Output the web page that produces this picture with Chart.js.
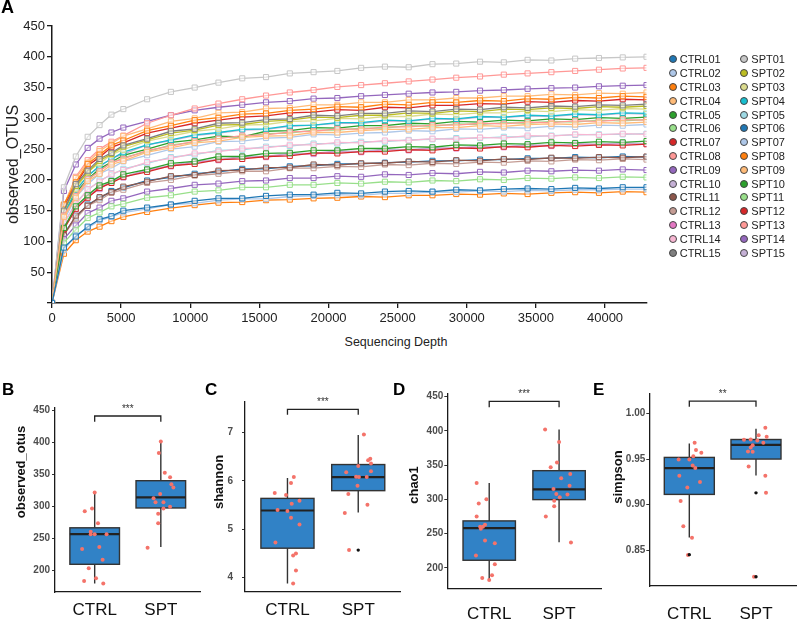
<!DOCTYPE html>
<html>
<head>
<meta charset="utf-8">
<title>Alpha diversity</title>
<script src="https://cdn.jsdelivr.net/npm/chart.js@4.4.0/dist/chart.umd.min.js"></script>
<style>
  html, body { margin: 0; padding: 0; background: #fff; }
  body { width: 800px; height: 619px; position: relative; overflow: hidden;
         font-family: 'Liberation Sans', Arial, Helvetica, sans-serif; color: #1a1a1a; }
  canvas { position: absolute; }
  .tag { position: absolute; font-weight: bold; color: #000; }
  .item { position: absolute; height: 12px; display: flex; align-items: center;
          font-size: 11px; color: #222; white-space: nowrap; }
  .dot { width: 8px; height: 8px; border-radius: 50%; border: 0.7px solid #444;
         box-sizing: border-box; margin-right: 3px; }
  #xTitle { position: absolute; left: 296px; top: 335px; width: 200px; text-align: center;
            font-size: 12.5px; line-height: 15px; color: #222; }
</style>
</head>
<body>
<canvas id="rareChart" width="800" height="335" style="left:0;top:0"></canvas>
<canvas id="panelB" width="205" height="239" style="left:0;top:380px"></canvas>
<canvas id="panelC" width="200" height="239" style="left:205px;top:380px"></canvas>
<canvas id="panelD" width="200" height="239" style="left:405px;top:380px"></canvas>
<canvas id="panelE" width="195" height="239" style="left:605px;top:380px"></canvas>
<div id="xTitle">Sequencing Depth</div>
<div class="tag" style="left:1px;top:-2px;font-size:18px;line-height:18px">A</div>
<div class="tag" style="left:2px;top:381px;font-size:17px;line-height:17px">B</div>
<div class="tag" style="left:205px;top:381px;font-size:17px;line-height:17px">C</div>
<div class="tag" style="left:393px;top:381px;font-size:17px;line-height:17px">D</div>
<div class="tag" style="left:593px;top:381px;font-size:17px;line-height:17px">E</div>
<div id="legend"></div>

<script>
// ---------- Panel A: rarefaction curves ----------
const depths = [0, 860, 1720, 2580, 3440, 4300, 5160, 6880, 8600, 10320, 12040, 13760, 15480, 17200,
  18920, 20640, 22360, 24080, 25800, 27520, 29240, 30960, 32680, 34400, 36120, 37840, 39560, 41280, 43000];
const depthTicks = [0, 5000, 10000, 15000, 20000, 25000, 30000, 35000, 40000];
const otuTicks = [0, 50, 100, 150, 200, 250, 300, 350, 400, 450];

const sampleNames = ['CTRL01', 'CTRL02', 'CTRL03', 'CTRL04', 'CTRL05', 'CTRL06', 'CTRL07', 'CTRL08',
  'CTRL09', 'CTRL10', 'CTRL11', 'CTRL12', 'CTRL13', 'CTRL14', 'CTRL15',
  'SPT01', 'SPT02', 'SPT03', 'SPT04', 'SPT05', 'SPT06', 'SPT07', 'SPT08',
  'SPT09', 'SPT10', 'SPT11', 'SPT12', 'SPT13', 'SPT14', 'SPT15'];

// tab20-like palette, SPT06..15 restart the cycle
const sampleColors = ['#1f77b4', '#aec7e8', '#ff7f0e', '#ffbb78', '#2ca02c', '#98df8a', '#d62728', '#ff9896',
  '#9467bd', '#c5b0d5', '#8c564b', '#c49c94', '#e377c2', '#f7b6d2', '#7f7f7f',
  '#c7c7c7', '#bcbd22', '#dbdb8d', '#17becf', '#9edae5', '#1f77b4', '#aec7e8', '#ff7f0e',
  '#ffbb78', '#2ca02c', '#98df8a', '#d62728', '#ff9896', '#9467bd', '#c5b0d5'];

const ctrl01 = [0, 90, 108, 124, 136, 141, 150, 155, 160, 166, 170, 170, 174, 176, 176, 179, 178, 181, 182, 181, 184, 183, 185, 186, 185, 187, 186, 188, 188];
const ctrl02 = [0, 86, 110, 122, 134, 140, 147, 153, 160, 162, 167, 169, 169, 173, 174, 176, 175, 178, 178, 180, 180, 182, 181, 183, 182, 184, 184, 185, 185];
const ctrl03 = [0, 80, 102, 116, 124, 133, 140, 148, 154, 159, 163, 164, 167, 168, 170, 171, 173, 172, 175, 175, 177, 176, 178, 177, 179, 180, 179, 181, 180];
const ctrl04 = [0, 140, 171, 198, 210, 225, 231, 245, 252, 260, 263, 269, 271, 272, 277, 277, 280, 282, 282, 285, 285, 288, 287, 290, 291, 290, 293, 292, 294];
const ctrl05 = [0, 122, 157, 175, 191, 198, 209, 217, 227, 230, 238, 238, 243, 244, 248, 248, 251, 251, 254, 253, 257, 256, 259, 258, 261, 260, 262, 261, 263];
const ctrl06 = [0, 98, 119, 138, 147, 157, 161, 171, 175, 181, 183, 188, 188, 192, 192, 195, 194, 197, 196, 199, 198, 201, 200, 203, 202, 204, 203, 205, 204];
const ctrl07 = [0, 120, 153, 171, 187, 195, 205, 213, 223, 226, 233, 234, 238, 239, 244, 243, 246, 246, 249, 248, 252, 251, 254, 253, 256, 255, 257, 256, 258];
const ctrl08 = [0, 142, 174, 201, 214, 228, 234, 248, 255, 263, 267, 272, 273, 278, 279, 283, 282, 286, 286, 289, 289, 292, 291, 294, 293, 296, 295, 298, 297];
const ctrl09 = [0, 104, 126, 146, 155, 166, 170, 181, 186, 192, 194, 198, 199, 203, 203, 206, 205, 209, 208, 211, 210, 213, 212, 215, 214, 216, 215, 217, 216];
const ctrl10 = [0, 124, 151, 175, 186, 199, 204, 217, 223, 230, 233, 238, 238, 243, 243, 247, 246, 250, 249, 252, 252, 255, 254, 257, 256, 259, 258, 260, 259];
const ctrl11 = [0, 110, 142, 158, 172, 180, 189, 197, 206, 208, 215, 216, 220, 220, 225, 224, 227, 227, 230, 229, 232, 231, 234, 233, 236, 235, 237, 236, 238];
const ctrl12 = [0, 111, 137, 158, 167, 179, 184, 195, 200, 207, 210, 214, 214, 219, 219, 222, 221, 225, 224, 227, 226, 229, 228, 231, 230, 233, 232, 234, 233];
const ctrl13 = [0, 123, 152, 174, 185, 198, 204, 216, 222, 229, 232, 237, 237, 242, 242, 246, 245, 249, 248, 251, 251, 254, 253, 256, 255, 258, 257, 259, 258];
const ctrl14 = [0, 131, 160, 185, 197, 210, 216, 229, 235, 243, 246, 251, 252, 257, 257, 261, 260, 264, 264, 267, 266, 269, 268, 272, 271, 274, 273, 275, 274];
const ctrl15 = [0, 150, 193, 215, 234, 244, 256, 267, 279, 283, 292, 293, 298, 299, 305, 304, 308, 308, 312, 311, 315, 314, 318, 317, 320, 319, 322, 321, 323];
const spt01 = [0, 188, 238, 270, 289, 306, 315, 331, 343, 350, 358, 365, 367, 373, 375, 377, 382, 384, 383, 388, 389, 392, 391, 395, 394, 397, 398, 399, 400];
const spt02 = [0, 148, 190, 212, 231, 242, 254, 265, 276, 281, 289, 290, 295, 297, 302, 301, 305, 305, 309, 308, 312, 311, 315, 314, 317, 316, 319, 318, 320];
const spt03 = [0, 151, 185, 213, 227, 241, 249, 263, 271, 279, 283, 289, 290, 295, 296, 300, 299, 303, 303, 307, 306, 309, 309, 312, 311, 314, 313, 316, 315];
const spt04 = [0, 143, 184, 206, 223, 234, 245, 257, 265, 273, 277, 282, 283, 288, 289, 293, 293, 297, 296, 300, 299, 303, 302, 305, 304, 307, 306, 309, 308];
const spt05 = [0, 128, 163, 183, 199, 208, 218, 227, 237, 241, 248, 249, 254, 255, 259, 259, 262, 262, 265, 266, 268, 268, 270, 270, 272, 273, 274, 274, 275];
const spt06 = [0, 113, 139, 160, 170, 182, 187, 199, 204, 210, 213, 218, 218, 222, 223, 226, 226, 228, 229, 231, 231, 233, 233, 235, 235, 237, 236, 238, 237];
const spt07 = [0, 134, 172, 193, 210, 219, 230, 240, 250, 254, 262, 263, 268, 269, 274, 273, 276, 277, 280, 279, 283, 282, 285, 284, 287, 286, 289, 288, 290];
const spt08 = [0, 160, 196, 226, 241, 256, 264, 280, 288, 297, 301, 307, 308, 313, 315, 319, 318, 323, 322, 326, 326, 329, 328, 332, 331, 334, 333, 336, 335];
const spt09 = [0, 159, 203, 228, 247, 259, 271, 283, 295, 300, 309, 310, 316, 317, 322, 322, 326, 326, 330, 330, 333, 333, 336, 336, 339, 338, 341, 340, 342];
const spt10 = [0, 140, 179, 201, 218, 229, 240, 250, 261, 265, 271, 270, 279, 280, 285, 284, 288, 288, 292, 291, 295, 294, 297, 296, 299, 298, 301, 300, 302];
const spt11 = [0, 139, 177, 199, 216, 227, 236, 246, 257, 261, 269, 270, 275, 276, 281, 281, 284, 284, 288, 287, 291, 290, 293, 292, 295, 294, 297, 296, 298];
const spt12 = [0, 157, 193, 223, 237, 253, 260, 276, 284, 292, 297, 302, 304, 309, 310, 314, 313, 318, 317, 321, 321, 324, 323, 327, 326, 329, 328, 331, 330];
const spt13 = [0, 158, 205, 232, 250, 262, 272, 292, 305, 316, 324, 331, 337, 342, 346, 351, 354, 357, 360, 363, 366, 368, 371, 373, 375, 377, 379, 381, 382];
const spt14 = [0, 182, 225, 252, 267, 277, 285, 295, 305, 313, 318, 322, 326, 328, 332, 333, 336, 338, 340, 342, 343, 345, 346, 348, 349, 350, 352, 353, 354];
const spt15 = [0, 146, 181, 207, 221, 235, 242, 257, 264, 272, 276, 281, 282, 287, 289, 292, 292, 296, 295, 299, 298, 302, 301, 304, 303, 306, 305, 308, 307];

const otuSeries = [ctrl01, ctrl02, ctrl03, ctrl04, ctrl05, ctrl06, ctrl07, ctrl08, ctrl09, ctrl10,
  ctrl11, ctrl12, ctrl13, ctrl14, ctrl15, spt01, spt02, spt03, spt04, spt05, spt06, spt07, spt08,
  spt09, spt10, spt11, spt12, spt13, spt14, spt15];

// ---------- Panels B-E: alpha diversity boxplots ----------
const groups = ['CTRL', 'SPT'];

// B: observed_otus
const obsCtrl = [322, 293, 297, 274, 261, 257, 257, 257, 234, 237, 217, 204, 184, 188, 180];
const obsCtrlJitter = [0.0, -0.15, -0.04, 0.05, -0.06, -0.06, 0.0, 0.18, -0.19, 0.07, 0.12, -0.09, -0.16, 0.02, 0.13];
const obsSpt = [402, 384, 353, 346, 335, 330, 320, 313, 307, 307, 300, 297, 289, 274, 236];
const obsSptJitter = [0.0, -0.03, 0.06, 0.14, 0.16, 0.19, -0.01, -0.11, -0.08, 0.04, 0.14, 0.04, -0.04, -0.04, -0.2];
const obsBox = [[180, 210, 257, 267, 323], [237, 298, 314.5, 340.6, 402.7]]; // whisker lo, q1, median, q3, whisker hi
const obsOutliers = [];
const obsTicks = [200, 250, 300, 350, 400, 450];

// C: shannon
const shanCtrl = [6.08, 5.96, 5.75, 5.71, 5.53, 5.59, 5.40, 5.38, 5.24, 5.10, 4.73, 4.50, 4.46, 4.15, 3.88];
const shanCtrlJitter = [0.09, 0.05, -0.18, -0.02, 0.06, 0.17, -0.14, 0.0, 0.05, 0.17, -0.17, 0.12, 0.08, 0.12, 0.08];
const shanSpt = [6.96, 6.46, 6.43, 6.36, 6.31, 6.18, 6.20, 6.08, 6.08, 5.90, 5.73, 5.51, 5.34, 4.57, 6.09];
const shanSptJitter = [0.08, 0.17, 0.14, 0.18, 0.0, -0.17, 0.18, 0.01, 0.12, -0.01, -0.14, 0.13, -0.19, -0.13, -0.03];
const shanBox = [[3.88, 4.61, 5.39, 5.64, 6.06], [5.35, 5.80, 6.08, 6.34, 6.95]];
const shanOutliers = [[2, 4.57]];
const shanTicks = [4, 5, 6, 7];

// D: chao1
const chaoCtrl = [324, 294, 300, 275, 263, 260, 260, 257, 240, 236, 218, 205, 185, 189, 182];
const chaoCtrlJitter = [-0.18, -0.15, -0.04, -0.18, -0.06, -0.13, -0.09, -0.12, -0.06, 0.08, -0.19, 0.08, -0.1, 0.04, 0.0];
const chaoSpt = [402, 384, 354, 347, 331, 337, 320, 315, 308, 307, 303, 298, 290, 275, 237];
const chaoSptJitter = [-0.2, 0.0, -0.03, -0.12, 0.03, 0.16, 0.15, -0.08, -0.04, 0.12, 0.01, -0.07, -0.07, -0.19, 0.17];
const chaoBox = [[182, 211, 258, 268.5, 324], [237.4, 299.6, 314.7, 341.9, 402.1]];
const chaoOutliers = [];
const chaoTicks = [200, 250, 300, 350, 400, 450];

// E: simpson
const simpCtrl = [0.9678, 0.9598, 0.9569, 0.9532, 0.9496, 0.9496, 0.943, 0.9401, 0.9317, 0.9248, 0.9189, 0.904, 0.8763, 0.8639, 0.8449];
const simpCtrlJitter = [0.08, 0.1, 0.18, 0.06, -0.16, 0.0, 0.05, 0.09, -0.15, 0.16, -0.03, -0.13, -0.09, 0.04, -0.02];
const simpSpt = [0.9842, 0.9744, 0.9762, 0.9711, 0.9714, 0.9704, 0.9678, 0.9652, 0.9627, 0.9583, 0.958, 0.9419, 0.9317, 0.9131, 0.8212];
const simpSptJitter = [0.14, 0.16, 0.04, -0.18, -0.08, 0.02, 0.11, -0.05, -0.08, -0.12, -0.05, -0.11, 0.14, 0.15, -0.03];
const simpBox = [[0.8642, 0.9113, 0.940, 0.9518, 0.967], [0.932, 0.950, 0.9656, 0.9714, 0.9831]];
const simpOutliers = [[1, 0.8453], [2, 0.913], [2, 0.8212]];
const simpTicks = [0.85, 0.90, 0.95, 1.00];

// Styling
const AXIS_COLOR = '#1a1a1a';
const BOX_FILL = '#3182c6';
const BOX_LINE = '#333333';
const DOT_COLOR = '#f4736a';
const BOX_HALF = 0.375;

Chart.defaults.font.family = "'Liberation Sans', Arial, Helvetica, sans-serif";
Chart.defaults.color = '#222';
Chart.defaults.animation = false;

// ---------- Rarefaction chart ----------
new Chart(document.getElementById('rareChart'), {
  type: 'line',
  data: {
    datasets: sampleNames.map((name, i) => ({
      label: name,
      data: depths.map((d, j) => ({ x: d, y: otuSeries[i][j] })),
      borderColor: sampleColors[i],
      borderWidth: 1.3,
      pointStyle: 'rect',
      pointRadius: 3.6,
      pointBorderWidth: 1,
      pointBorderColor: sampleColors[i],
      pointBackgroundColor: 'rgba(255,255,255,0.5)',
      fill: false,
    }))
  },
  options: {
    responsive: false,
    animation: false,
    layout: { padding: { top: 26, right: 153.5, bottom: 0, left: 0 } },
    plugins: { legend: { display: false }, tooltip: { enabled: false } },
    scales: {
      x: {
        type: 'linear', min: 0, max: 43000,
        afterFit: s => { s.height = 32; },
        afterBuildTicks: s => { s.ticks = depthTicks.map(v => ({ value: v })); },
        border: { color: AXIS_COLOR, width: 1.5 },
        grid: { drawOnChartArea: false, color: AXIS_COLOR, tickLength: 5, lineWidth: 1.3 },
        ticks: { autoSkip: false, maxRotation: 0, padding: 3, color: '#222', font: { size: 13 },
                 callback: v => String(v) }
      },
      y: {
        min: 0, max: 450,
        afterFit: s => { s.width = 52; },
        afterBuildTicks: s => { s.ticks = otuTicks.map(v => ({ value: v })); },
        border: { color: AXIS_COLOR, width: 1.5 },
        grid: { drawOnChartArea: false, color: AXIS_COLOR, tickLength: 5, lineWidth: 1.3 },
        ticks: { padding: 2, color: '#222', font: { size: 13 },
                 callback: v => v === 0 ? '' : String(v) },
        title: { display: true, text: 'observed_OTUS', color: '#222',
                 font: { size: 16 }, padding: { top: 4, bottom: 0 } }
      }
    }
  }
});

// HTML legend in two columns, built from the sample arrays
const legendBox = document.getElementById('legend');
sampleNames.forEach((name, i) => {
  const col = i < 15 ? 0 : 1;
  const row = i % 15;
  const item = document.createElement('div');
  item.className = 'item';
  item.style.left = (col === 0 ? 668.7 : 740.3) + 'px';
  item.style.top = (59.3 + row * 13.8 - 6) + 'px';
  item.innerHTML = '<span class="dot" style="background:' + sampleColors[i] + '"></span>' + name;
  legendBox.appendChild(item);
});

// ---------- Boxplot panels ----------
function makeBoxPlugin(p) {
  return {
    id: 'boxes_' + p.id,
    beforeDatasetsDraw(chart) {
      const { ctx, scales: { x, y } } = chart;
      ctx.save();
      p.box.forEach((b, i) => {
        const cx = x.getPixelForValue(i + 1);
        const hw = x.getPixelForValue(i + 1 + BOX_HALF) - cx;
        const [lo, q1, med, q3, hi] = b.map(v => y.getPixelForValue(v));
        ctx.strokeStyle = BOX_LINE;
        ctx.lineWidth = 1.4;
        ctx.beginPath();
        ctx.moveTo(cx, hi); ctx.lineTo(cx, q3);
        ctx.moveTo(cx, q1); ctx.lineTo(cx, lo);
        ctx.stroke();
        ctx.fillStyle = BOX_FILL;
        ctx.fillRect(cx - hw, q3, 2 * hw, q1 - q3);
        ctx.strokeRect(cx - hw, q3, 2 * hw, q1 - q3);
        ctx.lineWidth = 2.2;
        ctx.strokeStyle = '#222';
        ctx.beginPath();
        ctx.moveTo(cx - hw, med); ctx.lineTo(cx + hw, med);
        ctx.stroke();
      });
      ctx.restore();
    },
    afterDraw(chart) {
      const { ctx, scales: { x, y } } = chart;
      ctx.save();
      // significance bracket
      const x1 = x.getPixelForValue(1), x2 = x.getPixelForValue(2);
      const by = y.getPixelForValue(p.bracket[0]);
      const bt = y.getPixelForValue(p.bracket[1]);
      ctx.strokeStyle = '#222';
      ctx.lineWidth = 1.3;
      ctx.beginPath();
      ctx.moveTo(x1, bt); ctx.lineTo(x1, by); ctx.lineTo(x2, by); ctx.lineTo(x2, bt);
      ctx.stroke();
      ctx.fillStyle = '#333';
      ctx.font = "10px 'Liberation Sans', Arial, sans-serif";
      ctx.textAlign = 'center';
      ctx.textBaseline = 'middle';
      ctx.fillText(p.stars, (x1 + x2) / 2, by - 7);
      // y-axis title
      ctx.translate(p.titleX, p.titleY);
      ctx.rotate(-Math.PI / 2);
      ctx.fillStyle = '#111';
      ctx.font = "bold 13px 'Liberation Sans', Arial, sans-serif";
      ctx.fillText(p.title, 0, 0);
      ctx.restore();
    }
  };
}

function drawBoxPanel(canvasId, p) {
  const ctx = document.getElementById(canvasId).getContext('2d');
  new Chart(ctx, {
    type: 'scatter',
    data: {
      datasets: [
        {
          data: p.outliers.map(o => ({ x: o[0], y: o[1] })),
          pointRadius: 1.7, pointBackgroundColor: '#111', pointBorderWidth: 0
        },
        {
          data: p.ctrl.map((v, i) => ({ x: 1 + p.ctrlJitter[i], y: v })),
          pointRadius: 2, pointBackgroundColor: DOT_COLOR, pointBorderWidth: 0
        },
        {
          data: p.spt.map((v, i) => ({ x: 2 + p.sptJitter[i], y: v })),
          pointRadius: 2, pointBackgroundColor: DOT_COLOR, pointBorderWidth: 0
        }
      ]
    },
    options: {
      responsive: false,
      animation: false,
      layout: { padding: { top: p.padTop, right: p.padRight, bottom: 0, left: 0 } },
      plugins: { legend: { display: false }, tooltip: { enabled: false } },
      scales: {
        x: {
          type: 'linear', min: 0.4, max: 2.6,
          afterFit: s => { s.height = p.xHeight; },
          afterBuildTicks: s => { s.ticks = [{ value: 1 }, { value: 2 }]; },
          border: { color: AXIS_COLOR, width: 1.3 },
          grid: { display: false },
          ticks: { padding: p.labelPad, color: '#111', font: { size: 17 },
                   autoSkip: false, maxRotation: 0, callback: v => groups[v - 1] }
        },
        y: {
          min: p.yMin, max: p.yMax,
          afterFit: s => { s.width = p.axisWidth; },
          afterBuildTicks: s => { s.ticks = p.ticks.map(v => ({ value: v })); },
          border: { color: AXIS_COLOR, width: 1.3 },
          grid: { drawOnChartArea: false, color: '#333', tickLength: 3, lineWidth: 1 },
          ticks: { padding: p.tickPad, color: '#4d4d4d', font: { size: 10, weight: 'bold' },
                   autoSkip: false,
                   callback: v => p.decimals ? v.toFixed(p.decimals) : String(v) }
        }
      }
    },
    plugins: [makeBoxPlugin(p)]
  });
}

drawBoxPanel('panelB', {
  id: 'B', ctrl: obsCtrl, ctrlJitter: obsCtrlJitter, spt: obsSpt, sptJitter: obsSptJitter,
  box: obsBox, outliers: obsOutliers, ticks: obsTicks, decimals: 0,
  yMin: 166.7, yMax: 454.2, bracket: [441.7, 432.7], stars: '***',
  title: 'observed_otus', titleX: 21, titleY: 92,
  axisWidth: 55, padTop: 28, padRight: 4.5, xHeight: 27, labelPad: 0, tickPad: 2
});
drawBoxPanel('panelC', {
  id: 'C', ctrl: shanCtrl, ctrlJitter: shanCtrlJitter, spt: shanSpt, sptJitter: shanSptJitter,
  box: shanBox, outliers: shanOutliers, ticks: shanTicks, decimals: 0,
  yMin: 3.71, yMax: 7.64, bracket: [7.48, 7.37], stars: '***',
  title: 'shannon', titleX: 14, titleY: 102,
  axisWidth: 40, padTop: 21.7, padRight: 4.3, xHeight: 27.3, labelPad: 0, tickPad: 9
});
drawBoxPanel('panelD', {
  id: 'D', ctrl: chaoCtrl, ctrlJitter: chaoCtrlJitter, spt: chaoSpt, sptJitter: chaoSptJitter,
  box: chaoBox, outliers: chaoOutliers, ticks: chaoTicks, decimals: 0,
  yMin: 170, yMax: 455, bracket: [443.3, 434.5], stars: '***',
  title: 'chao1', titleX: 9.5, titleY: 105,
  axisWidth: 42.3, padTop: 13.3, padRight: 2.6, xHeight: 30.7, labelPad: 8, tickPad: 1
});
drawBoxPanel('panelE', {
  id: 'E', ctrl: simpCtrl, ctrlJitter: simpCtrlJitter, spt: simpSpt, sptJitter: simpSptJitter,
  box: simpBox, outliers: simpOutliers, ticks: simpTicks, decimals: 2,
  yMin: 0.811, yMax: 1.022, bracket: [1.0135, 1.0072], stars: '**',
  title: 'simpson', titleX: 13, titleY: 97,
  axisWidth: 44.3, padTop: 13.3, padRight: 0.5, xHeight: 33, labelPad: 10.5, tickPad: 1
});
</script>
</body>
</html>
